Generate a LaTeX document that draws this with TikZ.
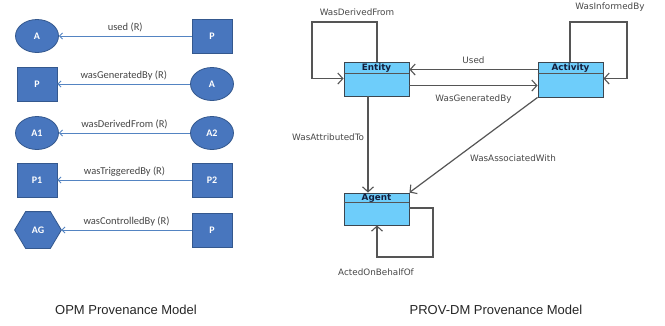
\documentclass[tikz,border=0pt]{standalone}
\usepackage{fontspec}
\setmainfont{Liberation Sans}
\newfontfamily\opmfont{Carlito}
\newfontfamily\provfont{DejaVu Sans}
\usetikzlibrary{arrows.meta,shapes.geometric}

\definecolor{opmfill}{RGB}{72,118,190}
\definecolor{opmedge}{RGB}{52,88,142}
\definecolor{opmline}{RGB}{84,132,194}
\definecolor{opmtext}{RGB}{70,70,70}
\definecolor{provfill}{RGB}{110,205,250}
\definecolor{provedge}{RGB}{60,70,80}
\definecolor{provline}{RGB}{85,85,85}
\definecolor{provtitle}{RGB}{20,30,60}

\tikzset{
  opmnode/.style={fill=opmfill, draw=opmedge, line width=0.8pt, text=white,
    font=\opmfont\fontsize{10}{11}\selectfont\bfseries, inner sep=0pt},
  opmellipse/.style={opmnode, ellipse, minimum width=43pt, minimum height=33pt},
  opmbox/.style={opmnode, rectangle, minimum width=40pt, minimum height=34pt},
  opmedge/.style={draw=opmline, line width=0.9pt,
    -{Straight Barb[length=3pt,width=6pt,line width=0.9pt]}},
  opmlabel/.style={font=\opmfont\fontsize{10.5}{12}\selectfont, text=opmtext},
  classbox/.style={fill=provfill, draw=provedge, line width=0.9pt,
    rectangle, minimum width=65pt, inner sep=0pt},
  classtitle/.style={font=\provfont\fontsize{8.8}{10}\selectfont\bfseries, text=provtitle},
  provedge/.style={draw=provline, line width=1.2pt,
    -{Straight Barb[length=5pt,width=11pt,line width=1.1pt]}},
  provlabel/.style={font=\provfont\fontsize{8.8}{10}\selectfont, text=provline!85!black},
  caption/.style={font=\fontsize{13}{15}\selectfont, text=black!85}
}

\begin{document}
\begin{tikzpicture}[x=1pt,y=-1pt]
\useasboundingbox (0,0) rectangle (665,325);
\fill[white] (0,0) rectangle (665,325);

% ---------- OPM: five relations, each read right to left ----------
\node[opmellipse] (a1) at (37,36) {A};
\node[opmbox]     (p1) at (212,36) {P};
\draw[opmedge] (p1) -- (a1) node[midway, above=0pt, opmlabel] {used (R)};

\node[opmbox]     (p2) at (37,84) {P};
\node[opmellipse] (a2) at (212,84) {A};
\draw[opmedge] (a2) -- (p2) node[midway, above=0pt, opmlabel] {wasGeneratedBy (R)};

\node[opmellipse] (d1) at (37,133) {A1};
\node[opmellipse] (d2) at (212,133) {A2};
\draw[opmedge] (d2) -- (d1) node[midway, above=0pt, opmlabel] {wasDerivedFrom (R)};

\node[opmbox] (t1) at (37,180) {P1};
\node[opmbox] (t2) at (212,180) {P2};
\draw[opmedge] (t2) -- (t1) node[midway, above=0pt, opmlabel] {wasTriggeredBy (R)};

% hexagonal agent node
\node[opmnode, rectangle, fill=none, draw=none, minimum width=46pt, minimum height=36pt] (ag) at (38,230) {};
\draw[fill=opmfill, draw=opmedge, line width=0.8pt]
  (ag.west) -- ([xshift=11pt]ag.north west) -- ([xshift=-11pt]ag.north east)
  -- (ag.east) -- ([xshift=-11pt]ag.south east) -- ([xshift=11pt]ag.south west) -- cycle;
\node[opmnode, fill=none, draw=none] at (ag) {AG};
\node[opmbox] (pc) at (212,230) {P};
\draw[opmedge] (pc) -- (ag) node[midway, above=0pt, opmlabel] {wasControlledBy (R)};

\node[caption] (capl) at (126,310) {OPM Provenance Model};

% ---------- PROV-DM: class boxes with a title compartment ----------
\node[classbox, minimum height=34pt] (entity) at (376.5,79) {};
\draw[provedge, -] ([yshift=-12pt]entity.north west) -- ([yshift=-12pt]entity.north east);
\node[classtitle] at ([yshift=-6.5pt]entity.north) {Entity};

\node[classbox, minimum height=35pt] (activity) at (570.5,79.5) {};
\draw[provedge, -] ([yshift=-12pt]activity.north west) -- ([yshift=-12pt]activity.north east);
\node[classtitle] at ([yshift=-6.5pt]activity.north) {Activity};

\node[classbox, minimum height=32pt] (agent) at (376.5,209) {};
\draw[provedge, -] ([yshift=-10pt]agent.north west) -- ([yshift=-10pt]agent.north east);
\node[classtitle] at ([yshift=-5.5pt]agent.north) {Agent};

% self loops
\draw[provedge] ([xshift=0.5pt]entity.north) |- (312,22) |- ([yshift=-17pt]entity.north west);
\node[provlabel] (lderived) at (357,12) {WasDerivedFrom};

\draw[provedge] ([xshift=-0.5pt]activity.north) |- (627,22) |- ([yshift=-17pt]activity.north east);
\node[provlabel] (linformed) at (610,7) {WasInformedBy};

\draw[provedge] ([yshift=1pt]agent.east) -| (433,257) -| ([xshift=0.5pt]agent.south);
\node[provlabel] (lacted) at (376,272) {ActedOnBehalfOf};

% relations between classes
\draw[provedge] ([yshift=-8pt]activity.north west) -- ([yshift=-8pt]entity.north east)
  node[midway, above=2pt, provlabel] {Used};
\draw[provedge] ([yshift=-24pt]entity.north east) -- ([yshift=-24pt]activity.north west)
  node[midway, below=5pt, provlabel] {WasGeneratedBy};
\draw[provedge] ([xshift=-8.5pt]entity.south) -- ([xshift=-8.5pt]agent.north)
  node[pos=0.42, left=0pt, provlabel] {WasAttributedTo};
\draw[provedge] (activity.south west) -- (agent.north east);
\node[provlabel] (lassoc) at (513,158) {WasAssociatedWith};

\node[caption] (capr) at (496,310) {PROV-DM Provenance Model};
\end{tikzpicture}
\end{document}
